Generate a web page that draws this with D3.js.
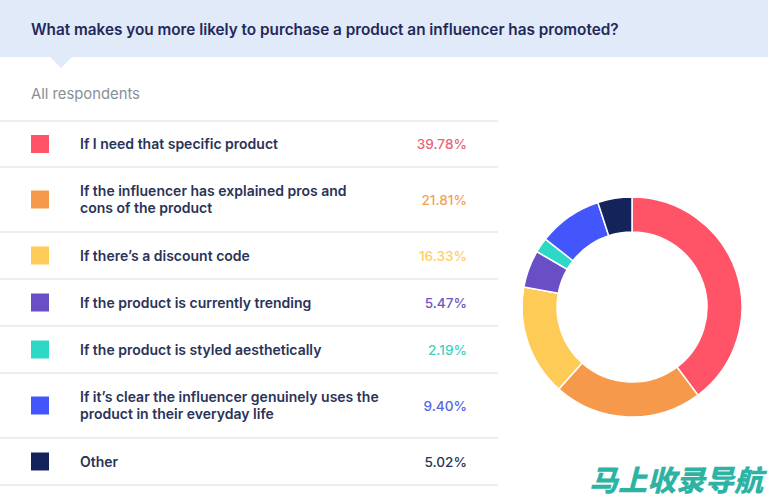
<!DOCTYPE html>
<html><head><meta charset="utf-8">
<script src="https://cdn.jsdelivr.net/npm/d3@7"></script>
<style>html,body{margin:0;padding:0;background:#fff;overflow:hidden}</style>
</head><body>
<svg id="c" width="768" height="501"></svg>
<script>
const title = "What makes you more likely to purchase a product an influencer has promoted?";
const subtitle = "All respondents";
const categories = [
  ["If I need that specific product"],
  ["If the influencer has explained pros and", "cons of the product"],
  ["If there’s a discount code"],
  ["If the product is currently trending"],
  ["If the product is styled aesthetically"],
  ["If it’s clear the influencer genuinely uses the", "product in their everyday life"],
  ["Other"]
];
const values = [39.78, 21.81, 16.33, 5.47, 2.19, 9.40, 5.02];
const valueLabels = ["39.78%", "21.81%", "16.33%", "5.47%", "2.19%", "9.40%", "5.02%"];
const colors = ["#ff5468", "#f7994a", "#ffcb57", "#6a4ec6", "#2ed8c6", "#4356fb", "#14245a"];
const textColors = ["#e9637a", "#f2a257", "#fdcf5f", "#6b57c0", "#43cfc0", "#5766e2", "#2b3457"];
const watermark = "马上收录导航";

const svg = d3.select("#c");
const font = "Inter, 'Noto Sans', sans-serif";

// header band
svg.append("rect").attr("x",0).attr("y",0).attr("width",768).attr("height",57).attr("fill","#e1eaf8");
svg.append("path").attr("d","M50,57 L72,57 L61,68 Z").attr("fill","#e1eaf8");
svg.append("text").attr("x",31).attr("y",35).text(title)
  .attr("font-family",font).attr("font-size",15.3).attr("font-weight",600)
  .attr("fill","#22295a");
svg.append("text").attr("x",31).attr("y",99).text(subtitle)
  .attr("font-family",font).attr("font-size",14.8).attr("font-weight",400)
  .attr("fill","#8a8e99");

// table rows
const boundaries = [121, 167, 232, 279, 326, 373, 438, 485];
const y = i => (boundaries[i] + boundaries[i+1]) / 2;
boundaries.forEach(b => svg.append("line").attr("x1",0).attr("x2",498).attr("y1",b).attr("y2",b)
  .attr("stroke","#e6e8ec").attr("stroke-width",1.5));

const rows = svg.selectAll("g.row").data(categories).join("g").attr("class","row");
rows.append("rect").attr("x",31).attr("y",(d,i)=>y(i)-9).attr("width",18).attr("height",18)
  .attr("fill",(d,i)=>colors[i]);
rows.each(function(d,i){
  const g = d3.select(this);
  const n = d.length;
  d.forEach((line,k)=>{
    g.append("text").attr("x",80).attr("y", y(i) + 5 + (k - (n-1)/2) * 17)
      .text(line).attr("font-family",font).attr("font-size",14).attr("font-weight",600)
      .attr("fill","#2a3358");
  });
  g.append("text").attr("x",467).attr("y",y(i)+5).attr("text-anchor","end")
    .text(valueLabels[i]).attr("font-family",font).attr("font-size",13.6).attr("font-weight",500)
    .attr("fill",textColors[i]);
});

// donut
const pie = d3.pie().sort(null).value(d=>d)(values);
const arc = d3.arc().innerRadius(75).outerRadius(110);
svg.append("g").attr("transform","translate(632,307)")
  .selectAll("path").data(pie).join("path")
  .attr("d",arc).attr("fill",(d,i)=>colors[i]).attr("stroke","#fff").attr("stroke-width",1.5);

// watermark
svg.append("text").attr("x",589).attr("y",491).text(watermark)
  .attr("font-family","'Noto Sans CJK SC', sans-serif").attr("font-size",29).attr("font-weight",900)
  .attr("font-style","italic").attr("fill","#2db3a3");
</script>
</body></html>
